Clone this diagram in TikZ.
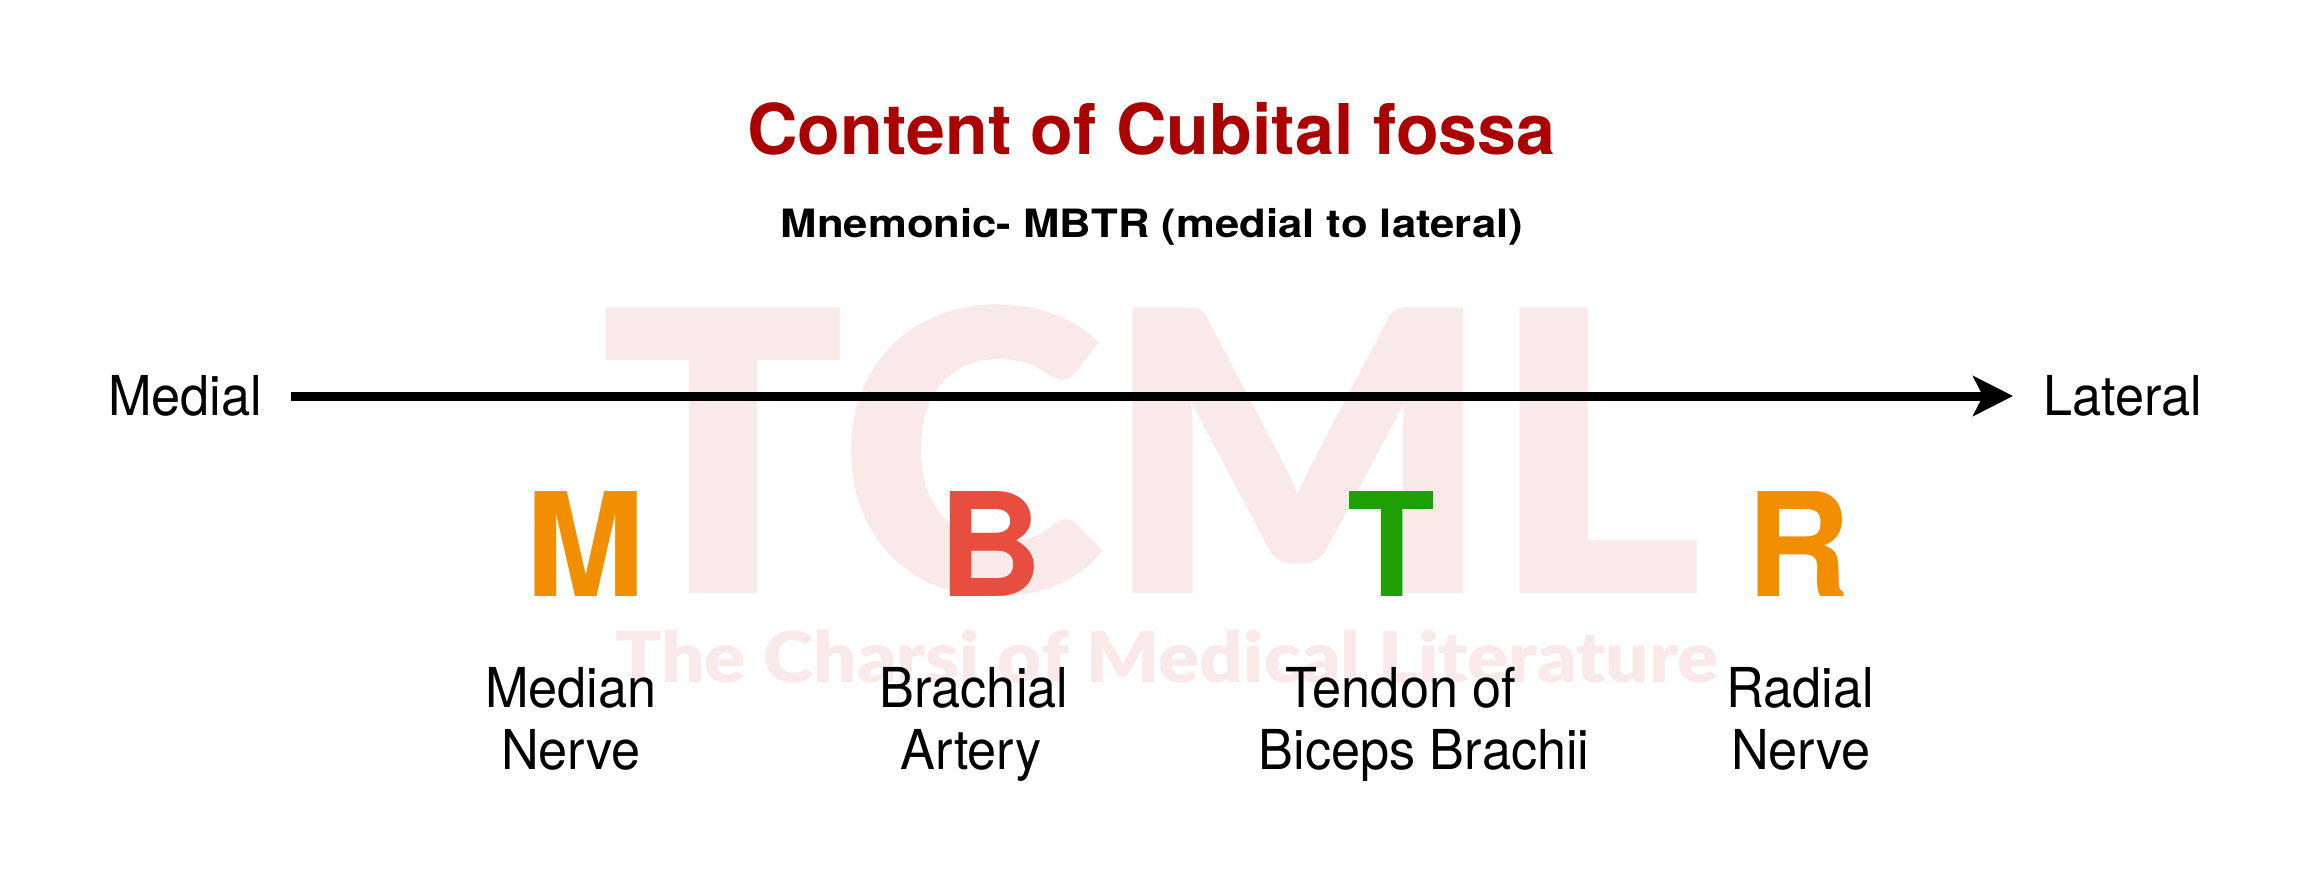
\documentclass[tikz,border=0pt]{standalone}
\usepackage{fontspec}
\usepackage{graphicx}
\setmainfont{TeX Gyre Heros}
\IfFontExistsTF{Lato Black}{\newfontfamily\wmfont{Lato Black}}{\newfontfamily\wmfont{Lato}[UprightFont=*-Bold]}
\usetikzlibrary{arrows.meta}
\definecolor{titlered}{RGB}{170,0,0}
\definecolor{morange}{RGB}{241,143,0}
\definecolor{bred}{RGB}{232,78,64}
\definecolor{tgreen}{RGB}{30,160,2}
\definecolor{wmpink}{RGB}{249,233,233}
\begin{document}
\begin{tikzpicture}[x=0.5pt, y=-0.5pt,
  every node/.style={inner sep=0pt, outer sep=0pt},
  titletext/.style={anchor=base, text=titlered, font=\fontsize{35}{40}\selectfont\bfseries},
  subtext/.style={anchor=base, font=\fontsize{19.5}{24}\selectfont\bfseries},
  sidetext/.style={anchor=base, font=\fontsize{27.5}{32}\selectfont},
  bigletter/.style={anchor=base, font=\fontsize{72}{80}\selectfont\bfseries},
  lbltext/.style={anchor=base, font=\fontsize{27.5}{32}\selectfont},
  wmbig/.style={anchor=base, text=wmpink, font=\wmfont\fontsize{196}{200}\selectfont},
  wmsmall/.style={anchor=base, text=wmpink, font=\wmfont\fontsize{35}{40}\selectfont},
  axisline/.style={line width=4.5pt, -{Stealth[length=20pt, width=20pt, inset=5pt]}}
]
\fill[white] (0,0) rectangle (2322,891);
\useasboundingbox (0,0) rectangle (2322,891);

% watermark
\node[wmbig] (wm1) at (1152,593) {\scalebox{1.03}[1]{TCML}};
\node[wmsmall] (wm2) at (1167,682) {\scalebox{1.09}[1]{The Charsi of Medical Literature}};

% title
\node[titletext] (title) at (1151.5,154) {Content of Cubital fossa};
\node[subtext] (sub) at (1152,237) {\scalebox{1.12}[1]{Mnemonic- MBTR (medial to lateral)}};

% axis
\node[sidetext] (medial) at (185,415) {\scalebox{0.95}[1]{Medial}};
\node[sidetext] (lateral) at (2122.5,415) {\scalebox{0.95}[1]{Lateral}};
\coordinate (axs) at (291,396);
\coordinate (axe) at (2013,396);
\draw[axisline] (axs) -- (axe);

% letters
\node[bigletter, text=morange] (M) at (585,596) {M};
\node[bigletter, text=bred] (B) at (990,596) {B};
\node[bigletter, text=tgreen] (T) at (1391,596) {T};
\node[bigletter, text=morange] (R) at (1798,596) {R};

% labels
\node[lbltext] (m1) at (571,707) {\scalebox{0.95}[1]{Median}};
\node[lbltext] (m2) at (571,769) {\scalebox{0.95}[1]{Nerve}};
\node[lbltext] (b1) at (974,707) {\scalebox{0.95}[1]{Brachial}};
\node[lbltext] (b2) at (971,769) {\scalebox{0.95}[1]{Artery}};
\node[lbltext] (t1) at (1401,707) {\scalebox{0.95}[1]{Tendon of}};
\node[lbltext] (t2) at (1424,769) {\scalebox{0.95}[1]{Biceps Brachii}};
\node[lbltext] (r1) at (1800,707) {\scalebox{0.95}[1]{Radial}};
\node[lbltext] (r2) at (1801,769) {\scalebox{0.95}[1]{Nerve}};
\end{tikzpicture}
\end{document}
